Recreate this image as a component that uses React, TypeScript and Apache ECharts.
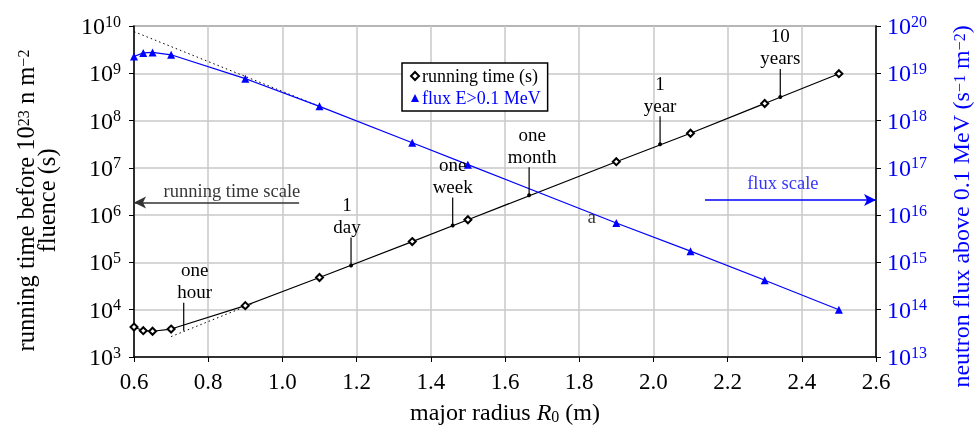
import React, { useEffect, useRef } from "react";
import * as echarts from "echarts";

const FONT = "'Liberation Serif', 'Times New Roman', serif";
const BLUE = "#0000ff";

// major radius R0 (m)
const radius = [0.6, 0.625, 0.65, 0.7, 0.9, 1.1, 1.35, 1.5, 1.9, 2.1, 2.3, 2.5];
// running time before 1e23 n/m2 fluence (s)
const runningTime = [4.3e3, 3.6e3, 3.5e3, 3.9e3, 1.22e4, 4.8e4, 2.76e5, 8.0e5, 1.35e7, 5.4e7, 2.3e8, 9.8e8];
// neutron flux above 0.1 MeV (s-1 m-2)
const flux = [2.27e19, 2.7e19, 2.76e19, 2.46e19, 7.7e18, 2.0e18, 3.4e17, 1.17e17, 6.8e15, 1.73e15, 4.2e14, 1.0e14];

// dotted asymptotes
const fluxAsymptote = [[0.6, 7.6e19], [1.1, 2.0e18]];
const timeAsymptote = [[0.7, 2.7e3], [0.92, 1.35e4]];

// time milestones
const milestoneLabels = ["one\nhour", "1\nday", "one\nweek", "one\nmonth", "1\nyear", "10\nyears"];
const milestoneRadius = [0.734, 1.185, 1.459, 1.665, 2.018, 2.342];
const milestoneSeconds = [3600, 86400, 604800, 2.63e6, 3.156e7, 3.156e8];
const milestoneDot = [false, true, true, true, true, true];
const milestoneTextShift = [11, -4, 0, 3, 0, 0];

// scale arrows
const timeArrow = [[1.045, 1.84e6], [0.6, 1.84e6]];
const fluxArrow = [[2.139, 2.09e16], [2.6, 2.09e16]];

// free texts
const timeNotes = [{ pos: [0.864, 3.3e6], text: "running time scale" }];
const fluxNotes = [
  { pos: [2.349, 4.8e16], text: "flux scale" },
  { pos: [1.834, 9.3e15], text: "a" },
];

const xMin = 0.6, xMax = 2.6, xStep = 0.2;
const yLeftMin = 1e3, yLeftMax = 1e10;
const yRightMin = 1e13, yRightMax = 1e20;

function powLabel(v: number) {
  const e = Math.round(Math.log10(v));
  return `{b|10}{e|${e}}`;
}

export default function App() {
  const ref = useRef<HTMLDivElement>(null);
  useEffect(() => {
    document.body.style.margin = "0";
    const chart = echarts.init(ref.current!, undefined, { renderer: "svg" });
    const powRich = (color: string) => ({
      b: { fontSize: 24, fontFamily: FONT, color, lineHeight: 26 },
      e: { fontSize: 16, fontFamily: FONT, color, verticalAlign: "top", lineHeight: 17 },
    });
    const option: any = {
      animation: false,
      textStyle: { fontFamily: FONT },
      grid: {
        left: 134, right: 100, top: 26, bottom: 72,
        show: true, borderColor: "#555", borderWidth: 1.5,
        containLabel: false, outerBoundsMode: "none",
      },
      legend: {
        left: 402,
        top: 63,
        orient: "vertical",
        backgroundColor: "#fff",
        borderColor: "#000",
        borderWidth: 1.5,
        borderRadius: 0,
        padding: [4, 7, 4, 8],
        itemGap: 4,
        itemWidth: 8,
        itemHeight: 8,
        textStyle: { fontSize: 18, fontFamily: FONT, padding: [0, 0, 0, -2] },
        data: [
          { name: "running time (s)", icon: "emptyDiamond", textStyle: { color: "#000" } },
          { name: "flux E>0.1 MeV", icon: "triangle", textStyle: { color: BLUE } },
        ],
      },
      xAxis: {
        type: "value",
        min: xMin,
        max: xMax,
        interval: xStep,
        name: "major radius {i|R}{sub|0} (m)",
        nameLocation: "middle",
        nameGap: 43,
        nameTextStyle: {
          fontSize: 24,
          fontFamily: FONT,
          color: "#000",
          rich: {
            i: { fontSize: 24, fontFamily: FONT, fontStyle: "italic", color: "#000" },
            sub: { fontSize: 16, fontFamily: FONT, verticalAlign: "bottom", color: "#000", lineHeight: 15 },
          },
        },
        axisLine: { show: true, lineStyle: { color: "#000", width: 1.5 } },
        axisTick: { show: true, inside: false, length: 5, lineStyle: { color: "#000" } },
        axisLabel: { formatter: (v: number) => v.toFixed(1), fontSize: 23, fontFamily: FONT, color: "#000", margin: 13 },
        splitLine: { show: true, lineStyle: { color: "#c8c8c8", width: 1.5 } },
      },
      yAxis: [
        {
          type: "log",
          logBase: 10,
          min: yLeftMin,
          max: yLeftMax,
          splitNumber: 7,
          position: "left",
          name: "running time before 10{s|23} n m{s|−2}\nfluence (s)",
          nameLocation: "middle",
          nameRotate: 90,
          nameGap: 77,
          nameTextStyle: {
            fontSize: 24.5,
            lineHeight: 21,
            fontFamily: FONT,
            color: "#000",
            padding: [0, 18, 0, 0],
            rich: { s: { fontSize: 16, fontFamily: FONT, verticalAlign: "top", color: "#000", lineHeight: 14 } },
          },
          axisLine: { show: true, lineStyle: { color: "#000", width: 1.5 } },
          axisTick: { show: true, inside: false, length: 5, lineStyle: { color: "#000" } },
          axisLabel: { formatter: powLabel, margin: 13, rich: powRich("#000") },
          splitLine: { show: true, lineStyle: { color: "#c8c8c8", width: 1.5 } },
        },
        {
          type: "log",
          logBase: 10,
          min: yRightMin,
          max: yRightMax,
          splitNumber: 7,
          position: "right",
          name: "neutron flux above 0.1 MeV (s{s|−1} m{s|−2})",
          nameLocation: "middle",
          nameRotate: 90,
          nameGap: 75,
          nameTextStyle: {
            fontSize: 24,
            lineHeight: 20,
            fontFamily: FONT,
            color: BLUE,
            padding: [0, 30, 0, 0],
            rich: { s: { fontSize: 16, fontFamily: FONT, verticalAlign: "top", color: BLUE, lineHeight: 12 } },
          },
          axisLine: { show: true, lineStyle: { color: "#000", width: 1.5 } },
          axisTick: { show: true, inside: false, length: 5, lineStyle: { color: "#000" } },
          axisLabel: { formatter: powLabel, margin: 11, rich: powRich(BLUE) },
          splitLine: { show: false },
        },
      ],
      series: [
        {
          name: "running time (s)",
          type: "line",
          yAxisIndex: 0,
          data: radius.map((r, i) => [r, runningTime[i]]),
          smooth: false,
          symbol: "emptyDiamond",
          symbolSize: 7,
          itemStyle: { color: "#000" },
          lineStyle: { color: "#000", width: 1.2 },
          z: 5,
          markLine: {
            silent: true,
            symbol: ["none", "arrow"],
            symbolSize: [9, 12],
            label: { show: false },
            lineStyle: { color: "#333", width: 1.5, type: "solid" },
            data: [[{ coord: timeArrow[0] }, { coord: timeArrow[1] }]],
          },
        },
        {
          name: "flux E>0.1 MeV",
          type: "line",
          yAxisIndex: 1,
          data: radius.map((r, i) => [r, flux[i]]),
          smooth: false,
          symbol: "triangle",
          symbolSize: 8,
          itemStyle: { color: BLUE },
          lineStyle: { color: BLUE, width: 1.2 },
          z: 5,
          markLine: {
            silent: true,
            symbol: ["none", "arrow"],
            symbolSize: [9, 12],
            label: { show: false },
            lineStyle: { color: BLUE, width: 1.5, type: "solid" },
            data: [[{ coord: fluxArrow[0] }, { coord: fluxArrow[1] }]],
          },
        },
        {
          type: "line",
          yAxisIndex: 1,
          data: fluxAsymptote,
          symbol: "none",
          lineStyle: { color: "#000", width: 1, type: [1.5, 3] },
          z: 4,
        },
        {
          type: "line",
          yAxisIndex: 0,
          data: timeAsymptote,
          symbol: "none",
          lineStyle: { color: "#000", width: 1, type: [1.5, 3] },
          z: 4,
        },
        {
          type: "custom",
          yAxisIndex: 0,
          data: milestoneRadius.map((r, i) => [r, milestoneSeconds[i], i]),
          z: 6,
          renderItem: (params: any, api: any) => {
            const i = api.value(2);
            const p = api.coord([api.value(0), api.value(1)]);
            const children: any[] = [
              {
                type: "line",
                shape: { x1: p[0], y1: p[1], x2: p[0], y2: p[1] - 28 },
                style: { stroke: "#000", lineWidth: 1.2 },
              },
              {
                type: "text",
                x: p[0] + milestoneTextShift[i],
                y: p[1] - 28,
                style: {
                  text: milestoneLabels[i],
                  fill: "#000",
                  fontSize: 19,
                  fontFamily: FONT,
                  lineHeight: 22,
                  align: "center",
                  verticalAlign: "bottom",
                },
              },
            ];
            if (milestoneDot[i]) {
              children.push({ type: "circle", shape: { cx: p[0], cy: p[1], r: 2 }, style: { fill: "#000" } });
            }
            return { type: "group", children };
          },
        },
        {
          type: "scatter",
          yAxisIndex: 0,
          data: timeNotes.map((n) => n.pos),
          symbolSize: 1,
          itemStyle: { color: "rgba(0,0,0,0)" },
          silent: true,
          label: {
            show: true,
            position: "inside",
            formatter: (p: any) => timeNotes[p.dataIndex].text,
            fontSize: 18.5,
            fontFamily: FONT,
            color: "#000",
          },
        },
        {
          type: "scatter",
          yAxisIndex: 1,
          data: fluxNotes.map((n, i) => ({
            value: n.pos,
            label: { color: i === 0 ? BLUE : "#000", fontSize: i === 0 ? 18.5 : 19 },
          })),
          symbolSize: 1,
          itemStyle: { color: "rgba(0,0,0,0)" },
          silent: true,
          label: {
            show: true,
            position: "inside",
            formatter: (p: any) => fluxNotes[p.dataIndex].text,
            fontFamily: FONT,
          },
        },
      ],
    };
    chart.setOption(option);
    return () => chart.dispose();
  }, []);
  return <div ref={ref} style={{ position: "fixed", left: 0, top: 0, width: 976, height: 429 }} />;
}
